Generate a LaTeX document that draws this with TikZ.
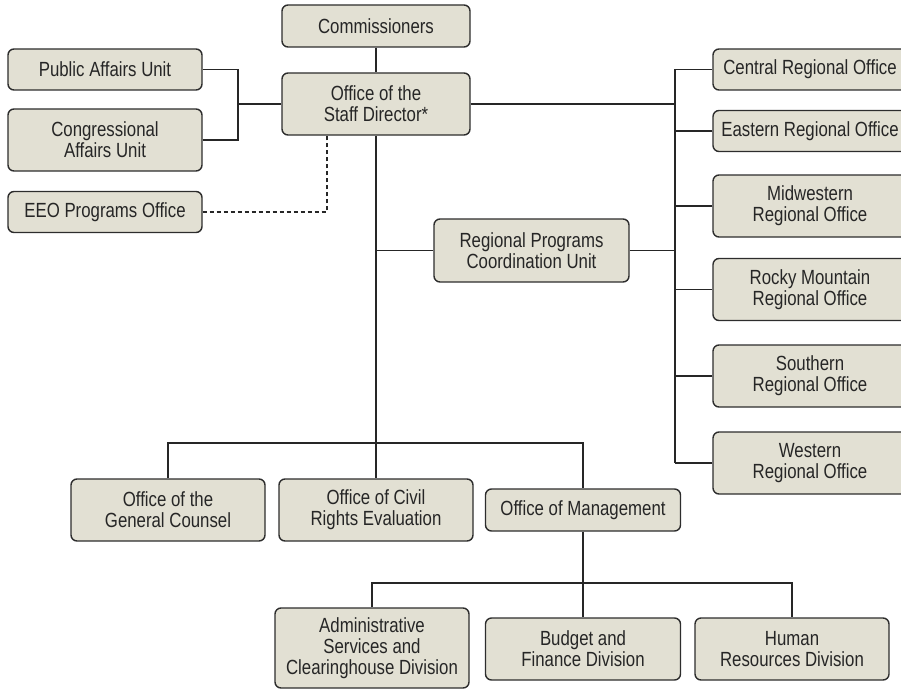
\documentclass[tikz,border=0pt]{standalone}
\usepackage{fontspec}
\setmainfont{Liberation Sans}[FakeStretch=0.82]
\usepackage{tikz}
\usetikzlibrary{calc}
\usetikzlibrary{positioning}

\definecolor{boxfill}{RGB}{226,224,211}
\definecolor{boxline}{RGB}{45,45,45}
\tikzset{
	office/.style={draw=boxline,fill=boxfill,rounded corners=6pt,line width=1.4pt,align=center,
		minimum width=194pt,minimum height=41pt,inner sep=2pt,text=black!85,
		font=\fontsize{20.5}{21}\selectfont},
	tall/.style={minimum height=62pt},
	link/.style={line width=1.2pt,black!85}
}

\begin{document}
\begin{tikzpicture}[x=1pt,y=-1pt]
			\useasboundingbox (0,0) rectangle (901,690);
			%top of the chart
			\node[office,minimum width=188pt,minimum height=42pt] (comm) at (376,26) {Commissioners};
			\node[office,tall,minimum width=188pt] (staff) at (376,104) {Office of the\\Staff Director*};
			\node[office] (pub) at (105,69.5) {Public Affairs Unit};
			\node[office,tall] (cong) at (105,140) {Congressional\\Affairs Unit};
			\node[office] (eeo) at (105,212) {EEO Programs Office};
			\node[office,minimum height=63pt,minimum width=195pt] (rpcu) at (531.5,250.5) {Regional Programs\\Coordination Unit};
			%regional offices
			\node[office] (central) at (810,69.5) {Central Regional Office};
			\node[office] (eastern) at (810,131) {Eastern Regional Office};
			\node[office,tall] (midw) at (810,206) {Midwestern\\Regional Office};
			\node[office,tall] (rocky) at (810,289.5) {Rocky Mountain\\Regional Office};
			\node[office,tall] (south) at (810,376) {Southern\\Regional Office};
			\node[office,tall] (west) at (810,463) {Western\\Regional Office};
			%bottom offices
			\node[office,tall] (counsel) at (168,510) {Office of the\\General Counsel};
			\node[office,tall] (civil) at (376,510) {Office of Civil\\Rights Evaluation};
			\node[office,minimum height=42pt,minimum width=195pt] (mgmt) at (583,510) {Office of Management};
			\node[office,minimum height=80pt] (admin) at (372,648) {Administrative\\Services and\\Clearinghouse Division};
			\node[office,tall,minimum width=195pt] (budget) at (583,649) {Budget and\\Finance Division};
			\node[office,tall] (human) at (792,649) {Human\\Resources Division};
			%print connecting lines
			\coordinate (lbr) at (238,104);
			\coordinate (rbr) at (675,0);
			\coordinate (eeo_drop) at (327,135);
			\coordinate (bus) at (376,443);
			\coordinate (bus_mgmt) at (583,583);
			\draw[link] (comm)--(staff);
			\draw[link] (pub.east) -| (lbr);
			\draw[link] (cong.east) -| (lbr);
			\draw[link] (lbr)--(staff.west);
			\draw[link,dashed,dash pattern=on 4pt off 3pt] (eeo.east) -| (eeo_drop);
			\draw[link] (staff.south)--(civil.north);
			\draw[link] (rpcu.west)--(rpcu.west -| staff.south);
			\draw[link] (staff.east)--(staff.east -| rbr);
			\draw[link] (rpcu.east)--(rpcu.east -| rbr);
			\draw[link] (central.west -| rbr)--(west.west -| rbr);
			\foreach \o in {central,eastern,midw,rocky,south,west}
				\draw[link] (\o.west)--(\o.west -| rbr);
			\draw[link] (counsel.north) |- (bus) -| (mgmt.north);
			\draw[link] (mgmt.south)--(budget.north);
			\draw[link] (admin.north) |- (bus_mgmt) -| (human.north);
		\end{tikzpicture}
\end{document}
